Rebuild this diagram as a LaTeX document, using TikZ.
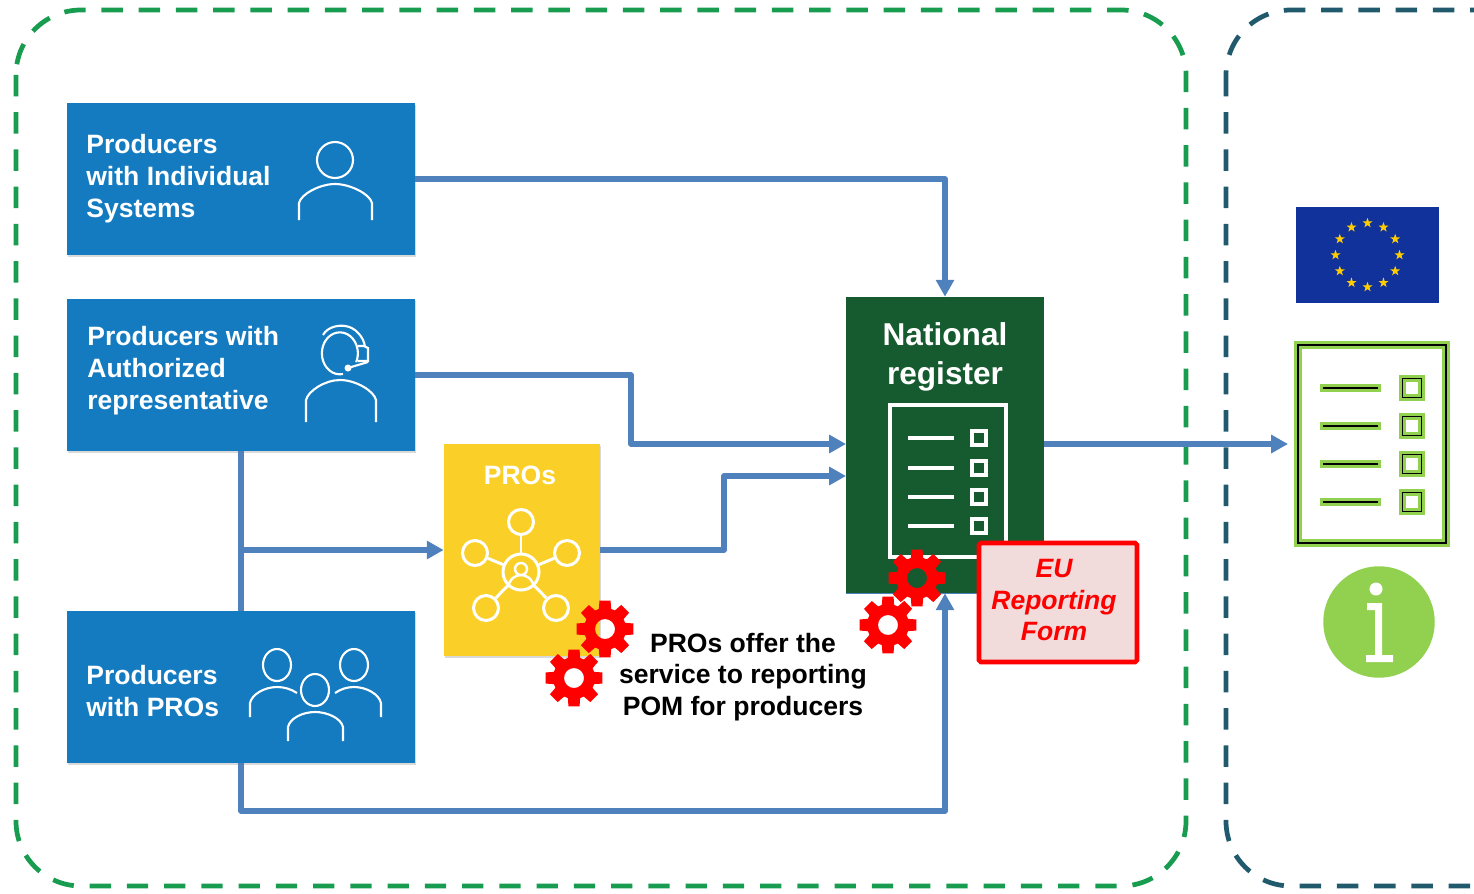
\documentclass[tikz,border=0pt]{standalone}
\usepackage{fontspec}
\setmainfont{Liberation Sans}
\usetikzlibrary{shapes, arrows.meta, positioning, calc, shadows}
\definecolor{boxblue}{RGB}{20, 123, 193}
\definecolor{flowblue}{RGB}{79, 129, 189}
\definecolor{regreen}{RGB}{22, 90, 47}
\definecolor{proyellow}{RGB}{250, 208, 40}
\definecolor{formpink}{RGB}{241, 220, 219}
\definecolor{leafgreen}{RGB}{146, 208, 80}
\definecolor{dashgreen}{RGB}{24, 156, 80}
\definecolor{dashteal}{RGB}{32, 90, 108}
\definecolor{flagblue}{RGB}{16, 50, 154}
\definecolor{staryellow}{RGB}{255, 204, 0}
\newcommand{\gearmark}[2]{%
  \fill[red, even odd rule, shift={(#1,#2)}] (-17:21)
    \foreach \a in {0,45,...,315} { -- (\a-17:21) -- (\a-11:29) -- (\a+11:29) -- (\a+17:21) }
    -- cycle (0,0) circle (10);
}
\tikzset{
  blockbox/.style={fill=boxblue, inner sep=0pt, minimum width=6.96cm, minimum height=3.04cm,
    drop shadow={opacity=0.3, shadow xshift=0.7pt, shadow yshift=-1.2pt}},
  blocktext/.style={anchor=west, align=left, text=white, inner sep=0pt,
    font=\fontsize{15.1}{18.14}\selectfont\bfseries},
  flow/.style={draw=flowblue, line width=2.9pt, line join=round},
  flowtip/.style={flow, -{Triangle[length=9.6pt, width=10pt]}},
  iconline/.style={draw=white, line width=1.2pt},
  hubdot/.style={circle, draw=white, line width=1.7pt, minimum size=0.5cm, inner sep=0pt},
  zonegreen/.style={draw=dashgreen, line width=2.7pt, dash pattern=on 12.2pt off 9pt, rounded corners=1.3cm},
  zoneteal/.style={draw=dashteal, line width=2.7pt, dash pattern=on 12.2pt off 9pt, rounded corners=1.3cm},
}
\begin{document}
\begin{tikzpicture}[x=0.02cm, y=-0.02cm]
  \useasboundingbox (0,0) rectangle (1474,893);

  % Dashed zones
  \draw[zonegreen] (16,10) rectangle (1186,886);
  \begin{scope}
    \clip (0,0) rectangle (1474,893);
    \draw[zoneteal] (1226,10) rectangle (1600,886);
  \end{scope}

  % Blocks
  \node[blockbox] (indiv) at (241,179) {};
  \node[blockbox] (authrep) at (241,375) {};
  \node[blockbox] (withpro) at (241,687) {};
  \node[fill=proyellow, inner sep=0pt, minimum width=3.12cm, minimum height=4.24cm,
    drop shadow={opacity=0.3, shadow xshift=0.7pt, shadow yshift=-1.2pt}] (pros) at (522,550) {};
  \draw[flowblue, line width=1pt] (846,593) -- (1044,593);
  \node[fill=regreen, inner sep=0pt, minimum width=3.96cm, minimum height=5.92cm] (natreg) at (945,445) {};

  \node[blocktext] (indivtext) at (86,179) {Producers\\with Individual\\Systems};
  \node[blocktext] (authtext) at (87,371) {Producers with\\Authorized\\representative};
  \node[blocktext] (protext) at (86,691) {Producers\\with PROs};
  \node[text=white, inner sep=0pt, font=\fontsize{15.1}{18}\selectfont\bfseries] (prostitle) at (520,475) {PROs};
  \node[text=white, inner sep=0pt, align=center, font=\fontsize{18}{22}\selectfont\bfseries] (natregtitle) at (945,357) {National\\register};

  % Connectors
  \coordinate (branch) at (241,550);
  \coordinate (regin1) at (846,444);
  \coordinate (regin2) at (846,476);
  \coordinate (regout) at (1044,444);
  \coordinate (euin) at (1288,444);
  \draw[flowtip] (indiv.east) -| (natreg.north);
  \draw[flowtip] (authrep.east) -- (631,375) -- (631,444) -- (regin1);
  \draw[flow] (authrep.south) -- (withpro.north);
  \draw[flowtip] (branch) -- (pros.west);
  \draw[flowtip] (pros.east) -- (724,550) -- (724,476) -- (regin2);
  \draw[flowtip] (withpro.south) |- (945,811) -- (natreg.south);
  \draw[flowtip] (regout) -- (euin);

  % Person icons
  \draw[iconline] (335,160) circle (18);
  \draw[iconline] (299,220) -- (299,203) .. controls (301,194) and (320,184) .. (335,184)
    .. controls (350,184) and (370,194) .. (372,203) -- (372,220);
  \draw[iconline] (343,374) arc[start angle=80, end angle=385, x radius=18, y radius=21];
  \draw[iconline] (323,335) .. controls (328,326) and (340,325) .. (345,326)
    .. controls (355,327) and (364,337) .. (365,347);
  \draw[iconline] (358,346) -- (364,346) -- (368,348) -- (368,361) -- (358,361);
  \draw[iconline] (368,362) -- (348,368);
  \fill[white] (348,368) circle (3.5);
  \draw[iconline] (306,422) -- (306,400) .. controls (308,391) and (325,380) .. (340,380)
    .. controls (356,380) and (374,391) .. (376,400) -- (376,422);
  \draw[iconline] (277,665) ellipse (14 and 16);
  \draw[iconline] (354,665) ellipse (14 and 16);
  \draw[iconline] (315,690) ellipse (14 and 16);
  \draw[iconline] (250,717) -- (250,703) .. controls (252,694) and (265,687) .. (277,687)
    .. controls (284,687) and (291,689) .. (297,693);
  \draw[iconline] (381,717) -- (381,703) .. controls (379,694) and (366,687) .. (354,687)
    .. controls (347,687) and (341,689) .. (335,693);
  \draw[iconline] (288,741) -- (288,727) .. controls (290,718) and (303,712) .. (315,712)
    .. controls (327,712) and (341,718) .. (343,727) -- (343,741);

  % Hub icon
  \node[hubdot, minimum size=0.72cm] (hubmid) at (521,572) {};
  \node[hubdot] (hubtop) at (521,522) {};
  \node[hubdot] (hubleft) at (475,553) {};
  \node[hubdot] (hubright) at (567,553) {};
  \node[hubdot] (hubll) at (486,608) {};
  \node[hubdot] (hubrr) at (556,608) {};
  \draw[white, line width=1.7pt] (hubmid) -- (hubtop);
  \draw[white, line width=1.7pt] (hubmid) -- (hubleft);
  \draw[white, line width=1.7pt] (hubmid) -- (hubright);
  \draw[white, line width=1.7pt] (hubmid) -- (hubll);
  \draw[white, line width=1.7pt] (hubmid) -- (hubrr);
  \draw[white, line width=1.4pt] (521,569) circle (6);
  \draw[white, line width=1.4pt] (508,587) .. controls (510,578) and (516,575) .. (521,575)
    .. controls (526,575) and (532,578) .. (534,587);

  % Register sheet
  \draw[white, line width=2pt] (890,405) rectangle (1006,557);
  \foreach \y in {438,468,497,526} {
    \draw[white, line width=2pt] (908,\y) -- (954,\y);
    \draw[white, line width=2pt] (972,\y-7) rectangle (986,\y+7);
  }

  % EU reporting form
  \node[draw=red, fill=formpink, line width=2.6pt, rounded corners=1pt, inner sep=0pt,
    minimum width=3.16cm, minimum height=2.38cm] (euform) at (1058,602.5) {};
  \node[text=red, inner sep=0pt, align=center, font=\fontsize{15.1}{18.14}\selectfont\bfseries\itshape] (euformtext) at (1054,600) {EU\\Reporting\\Form};

  % Gears
  \gearmark{917}{578}
  \gearmark{888}{625}
  \gearmark{605}{629}
  \gearmark{574}{678}
  \node[inner sep=0pt, align=center, font=\fontsize{15.1}{18.14}\selectfont\bfseries] (servicetext) at (743,677)
    {PROs offer the\\service to reporting\\POM for producers};

  % EU flag
  \node[fill=flagblue, inner sep=0pt, minimum width=2.86cm, minimum height=1.92cm] (euflag) at (1367.5,255) {};
  \foreach \n in {0,30,...,330} {
    \node[star, star points=5, star point ratio=2.5, fill=staryellow, inner sep=0pt, minimum size=0.21cm] (flagstar\n) at ($(euflag.center)+(\n:32)$) {};
  }

  % Reporting sheet
  \draw[leafgreen, line width=4.2pt] (1298,345) rectangle (1446,543);
  \draw[black, line width=1.1pt] (1298,345) rectangle (1446,543);
  \foreach \y in {388,426,464,502} {
    \draw[leafgreen, line width=4.6pt] (1320,\y) -- (1381,\y);
    \draw[black, line width=1.1pt] (1323,\y) -- (1378,\y);
    \draw[leafgreen, line width=4.2pt] (1402.5,\y-9.5) rectangle (1421.5,\y+9.5);
    \draw[black, line width=1.1pt] (1402.5,\y-9.5) rectangle (1421.5,\y+9.5);
  }

  % Info sign
  \node[circle, fill=leafgreen, inner sep=0pt, minimum size=2.23cm] (infosign) at (1379,622) {};
  \fill[white] (1376,589) circle (6.5);
  \fill[white] (1367,603) -- (1382,603) -- (1382,655) -- (1393,655) -- (1393,662) -- (1366,662)
    -- (1366,655) -- (1375,655) -- (1375,610) -- (1367,610) -- cycle;
\end{tikzpicture}
\end{document}
